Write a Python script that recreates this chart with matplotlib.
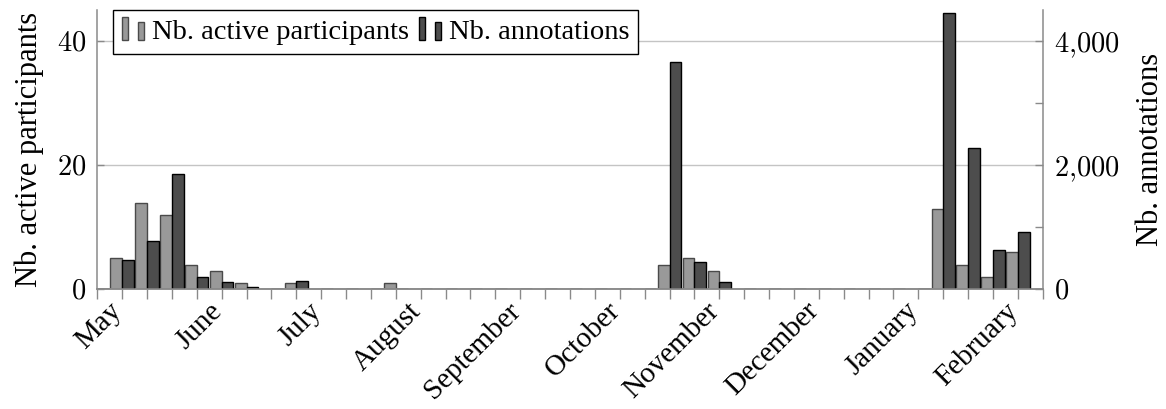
import matplotlib
matplotlib.use("Agg")
import matplotlib.pyplot as plt
import matplotlib.transforms as mtransforms
from matplotlib.patches import Rectangle
from matplotlib.legend_handler import HandlerBase

# ---- data (one value per week) ----
participants = [0, 5, 14, 12, 4, 3, 1, 0, 1, 0, 0, 0, 1, 0, 0, 0, 0, 0, 0, 0,
                0, 0, 0, 4, 5, 3, 0, 0, 0, 0, 0, 0, 0, 0, 13, 4, 2, 6]
annotations = [15, 470, 784, 1855, 206, 120, 40, 0, 140, 0, 0, 0, 15, 0, 0, 0, 0, 0, 0, 0,
               0, 0, 0, 3660, 442, 126, 0, 0, 0, 0, 0, 0, 0, 0, 4447, 2278, 635, 919]
month_labels = ["May", "June", "July", "August", "September", "October",
                "November", "December", "January", "February"]
month_weeks = [1, 5, 9, 13, 17, 21, 25, 29, 33, 37]
left_ticks = [0, 20, 40]
right_ticks = [0, 1000, 2000, 3000, 4000]
right_labels = ["$0$", "", "$2{,}000$", "", "$4{,}000$"]

plt.rcParams['font.family'] = ['Liberation Serif', 'DejaVu Serif']
plt.rcParams['mathtext.fontset'] = 'cm'
FS = 20.5

LIGHT_FC, LIGHT_EC = '#999999', '#4a4a4a'
DARK_FC, DARK_EC = '#4d4d4d', '#000000'
SPINE = '#8a8a8a'

fig = plt.figure(figsize=(11.66, 4.09), dpi=100)
ax = fig.add_axes([0.0834, 0.2922, 0.8943 - 0.0834, 0.9756 - 0.2922])
ax2 = ax.twinx()

weeks = list(range(len(participants)))
bw = 0.47
ax.bar([w - bw / 2 for w in weeks], participants, width=bw, color=LIGHT_FC,
       edgecolor=LIGHT_EC, linewidth=1.0, zorder=2)
ax2.bar([w + bw / 2 for w in weeks], annotations, width=bw, color=DARK_FC,
        edgecolor=DARK_EC, linewidth=1.0, zorder=2)

ax.set_xlim(0, 38)
ax.set_ylim(0, 45)
ax2.set_ylim(0, 4500)

# grid
ax.set_axisbelow(True)
for v in [20, 40]:
    ax.axhline(v, color='#c4c4c4', linewidth=1.0, zorder=0)

# spines
for a in (ax, ax2):
    a.spines['top'].set_visible(False)
    for s in ('left', 'right', 'bottom'):
        a.spines[s].set_color(SPINE)
        a.spines[s].set_linewidth(1.1)
ax.spines['right'].set_visible(False)
ax2.spines['left'].set_visible(False)

# x ticks
ax.set_xticks(range(0, 39))
xl = [''] * 39
for m, w in zip(month_labels, month_weeks):
    xl[w] = m
ax.set_xticklabels(xl, rotation=45, ha='right', va='top', rotation_mode='anchor',
                   fontsize=FS + 0.5)
ax.tick_params(axis='x', direction='out', length=7.5, width=1.0, color=SPINE, pad=0)
off = mtransforms.ScaledTranslation(-0.13, 0.02, fig.dpi_scale_trans)
for lab in ax.get_xticklabels():
    lab.set_transform(lab.get_transform() + off)

# left y
ax.set_yticks(left_ticks)
ax.set_yticklabels(["$%d$" % v for v in left_ticks], fontsize=FS)
ax.tick_params(axis='y', direction='in', length=5, width=1.0, color=SPINE, pad=8)
ax.set_ylabel("Nb. active participants", fontsize=FS + 1.5, labelpad=9)

# right y
ax2.set_yticks(right_ticks)
ax2.set_yticklabels(right_labels, fontsize=FS)
ax2.tick_params(axis='y', direction='in', length=6, width=1.0, color=SPINE, pad=8)
ax2.set_ylabel("Nb. annotations", fontsize=FS + 1.5, labelpad=12)


class TwoBars(HandlerBase):
    def __init__(self, fc, ec):
        super().__init__()
        self.fc, self.ec = fc, ec

    def create_artists(self, legend, orig_handle, xdescent, ydescent, width, height,
                       fontsize, trans):
        w = width * 0.27
        r1 = Rectangle((-xdescent, -ydescent - height * 0.05), w, height * 1.15,
                       facecolor=self.fc, edgecolor=self.ec, linewidth=1.0, transform=trans)
        r2 = Rectangle((-xdescent + width * 0.7, -ydescent - height * 0.05), w, height * 0.9,
                       facecolor=self.fc, edgecolor=self.ec, linewidth=1.0, transform=trans)
        return [r1, r2]


h1 = Rectangle((0, 0), 1, 1)
h2 = Rectangle((0, 0), 1, 1)
leg = ax2.legend([h1, h2], ["Nb. active participants", "Nb. annotations"],
                 handler_map={h1: TwoBars(LIGHT_FC, LIGHT_EC), h2: TwoBars(DARK_FC, DARK_EC)},
                 loc='upper left', bbox_to_anchor=(0.0166, 1.0), borderaxespad=0,
                 ncol=2, fontsize=FS, frameon=True, fancybox=False, framealpha=1,
                 handlelength=0.8, handletextpad=0.25, columnspacing=0.35,
                 borderpad=0.32)
leg.get_frame().set_edgecolor('black')
leg.get_frame().set_linewidth(1.0)

fig.savefig("out.png", dpi=100)
